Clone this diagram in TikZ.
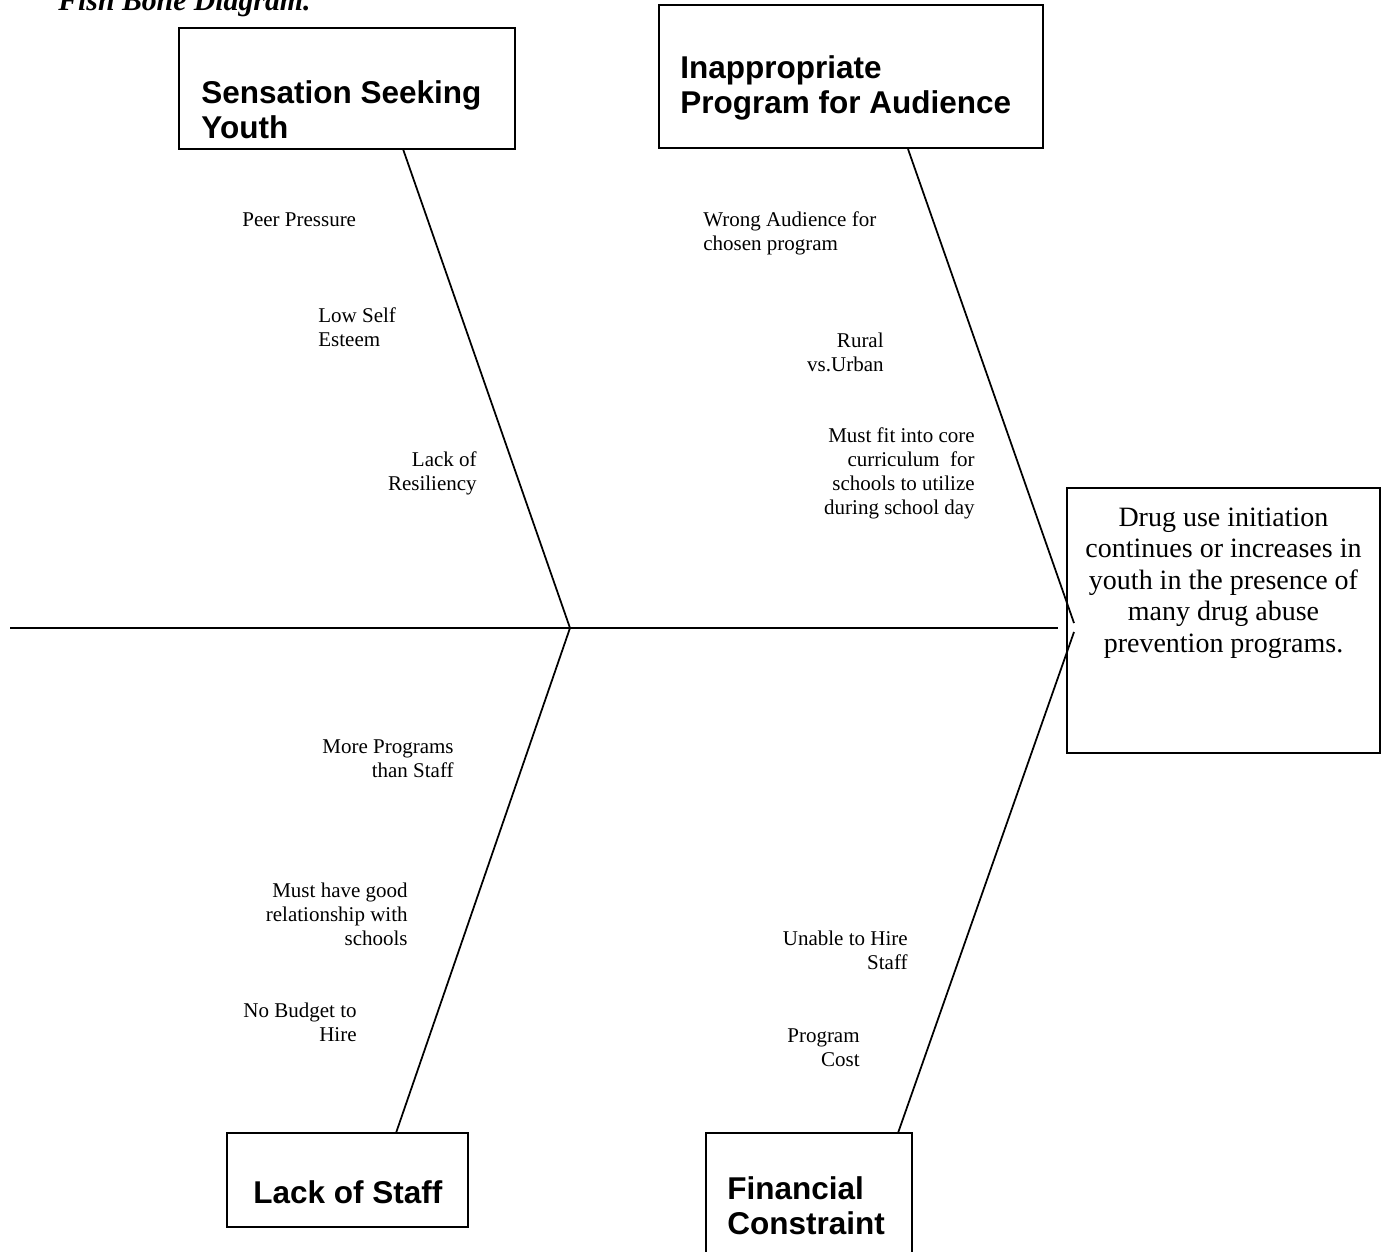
\documentclass[tikz,border=0pt]{standalone}
\usepackage{fontspec}
\setmainfont{Liberation Serif}
\newfontfamily\hdrfont{Liberation Sans}
\usetikzlibrary{fit}
\begin{document}
\begin{tikzpicture}[x=0.5714pt,y=-0.5714pt,
  bx/.style={draw, line width=1.3pt, inner sep=0pt},
  bone/.style={line width=1pt},
  lbl/.style={font=\fontsize{12}{13.7}\selectfont, inner sep=0pt},
  hdr/.style={font=\hdrfont\bfseries\fontsize{18}{20}\selectfont, inner sep=0pt, align=left},
  effect/.style={font=\fontsize{16}{18}\selectfont, inner sep=0pt, align=center}]
\useasboundingbox (0,0) rectangle (1386,1251);
\clip (0,0) rectangle (1386,1251);

% title (cut by top edge)
\node[anchor=base west, inner sep=0pt, font=\bfseries\itshape\fontsize{17}{20}\selectfont] (title) at (58,10) {Fish Bone Diagram.};

% boxes
\node[bx, fit={(179,28) (515,149)}] (sens) {};
\node[hdr, anchor=base west] (senst) at (201,138) {Sensation Seeking\\Youth};
\node[bx, fit={(659,5) (1043,148)}] (inap) {};
\node[hdr, anchor=base west] (inapt) at (680,113) {Inappropriate\\Program for Audience};
\node[bx, fit={(227,1133) (468,1227)}] (staff) {};
\node[hdr, anchor=base west] (stafft) at (253,1203) {Lack of Staff};
\node[bx, fit={(706,1133) (912,1270)}] (fin) {};
\node[hdr, anchor=base west] (fint) at (727,1234) {Financial\\Constraint};
\node[bx, fit={(1067,488) (1380,753)}] (eff) {};
\node[effect, anchor=base] (efft) at (1223.5,652) {Drug use initiation\\continues or increases in\\youth in the presence of\\many drug abuse\\prevention programs.};

% spine and bones
\coordinate (tail) at (10,628);
\coordinate (head) at (1058,628);
\coordinate (j1) at (570,628);
\coordinate (j2u) at (1074,623);
\coordinate (j2l) at (1074,632);
\coordinate (b1) at (403,149);
\coordinate (b2) at (908,149);
\coordinate (b3) at (396,1133);
\coordinate (b4) at (898,1133);
\draw[bone] (tail) -- (head);
\draw[bone] (b1) -- (j1);
\draw[bone] (j1) -- (b3);
\draw[bone] (b2) -- (j2u);
\draw[bone] (j2l) -- (b4);

% cause labels (anchor = baseline of last line)
\node[lbl, anchor=base west, align=left] (l1) at (242,226) {Peer Pressure};
\node[lbl, anchor=base west, align=left] (l2) at (318,346) {Low Self\\Esteem};
\node[lbl, anchor=base east, align=right] (l3) at (477,490) {Lack of\\Resiliency};
\node[lbl, anchor=base west, align=left] (r1) at (703,250) {Wrong Audience for\\chosen program};
\node[lbl, anchor=base east, align=right] (r2) at (884,371) {Rural\\vs.Urban};
\node[lbl, anchor=base east, align=right] (r3) at (975,514) {Must fit into core\\curriculum\ \ for\\schools to utilize\\during school day};
\node[lbl, anchor=base east, align=right] (s1) at (454,777) {More Programs\\than Staff};
\node[lbl, anchor=base east, align=right] (s2) at (408,945) {Must have good\\relationship with\\schools};
\node[lbl, anchor=base east, align=right] (s3) at (357,1041) {No Budget to\\Hire};
\node[lbl, anchor=base east, align=right] (f1) at (908,969) {Unable to Hire\\Staff};
\node[lbl, anchor=base east, align=right] (f2) at (860,1066) {Program\\Cost};
\end{tikzpicture}
\end{document}
